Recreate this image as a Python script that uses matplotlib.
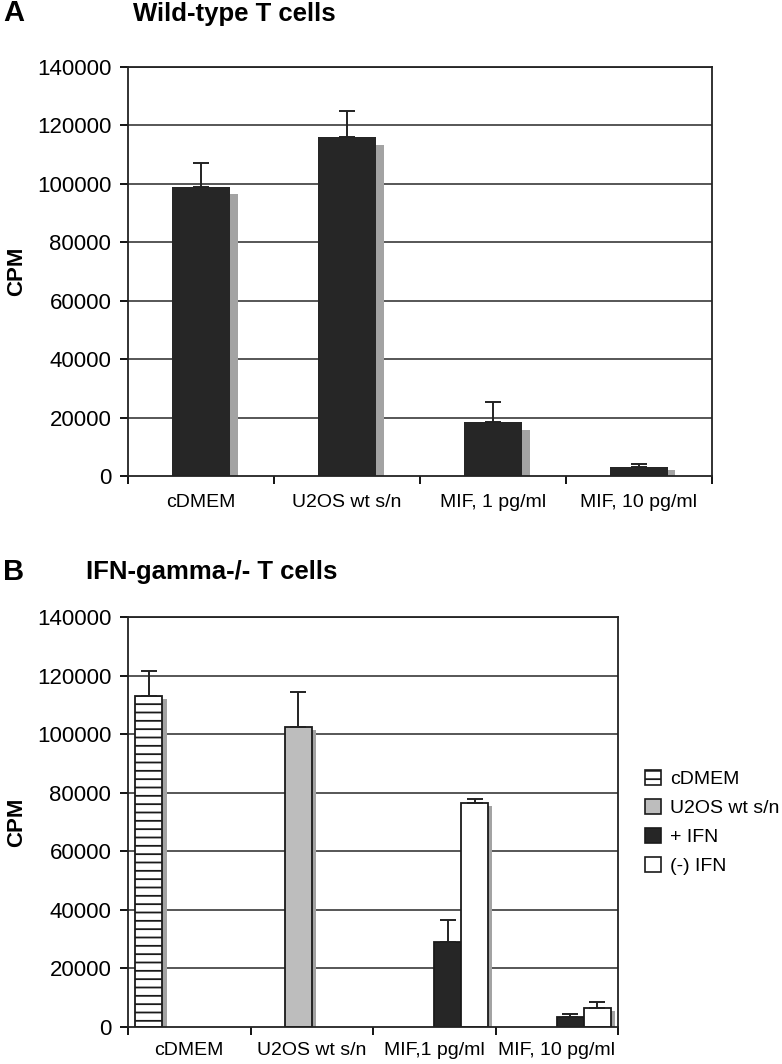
import numpy as np
import matplotlib
matplotlib.use("Agg")
import matplotlib.pyplot as plt
from matplotlib.patches import Patch

plt.rcParams['font.family'] = ['Liberation Sans', 'DejaVu Sans']
plt.rcParams['hatch.linewidth'] = 1.3

# panel A data
cats_a = ["cDMEM", "U2OS wt s/n", "MIF, 1 pg/ml", "MIF, 10 pg/ml"]
cpm_a = [99000, 116000, 18500, 3000]
err_a = [8000, 9000, 7000, 1000]

# panel B data (one series per treatment, 0 = no bar)
cats_b = ["cDMEM", "U2OS wt s/n", "MIF,1 pg/ml", "MIF, 10 pg/ml"]
series_b = ["cDMEM", "U2OS wt s/n", "+ IFN", "(-) IFN"]
cdmem_b = [113000, 0, 0, 0]
u2os_b = [0, 102500, 0, 0]
plus_ifn_b = [0, 0, 29000, 3500]
minus_ifn_b = [0, 0, 76500, 6500]
cdmem_err = [8500, 0, 0, 0]
u2os_err = [0, 12000, 0, 0]
plus_ifn_err = [0, 0, 7500, 800]
minus_ifn_err = [0, 0, 1500, 2200]

yticks = np.arange(0, 140001, 20000)
shadow_col = "#a3a3a3"
grid_col = "#3a3a3a"

fig = plt.figure(figsize=(7.82, 10.64), dpi=100)
axA = fig.add_axes([128/782, 1-476/1064, (712-128)/782, 409/1064])
axB = fig.add_axes([128/782, 1-1027/1064, (618-128)/782, 410/1064])


def style_axis(ax, cats, labelpad):
    ax.set_ylim(0, 140000)
    ax.set_xlim(-0.5, len(cats) - 0.5)
    ax.set_yticks(yticks)
    ax.set_yticklabels([str(t) for t in yticks], fontsize=16)
    ax.set_xticks(np.arange(len(cats)))
    ax.set_xticklabels(cats, fontsize=14)
    ax.set_xticks(np.arange(len(cats) + 1) - 0.5, minor=True)
    ax.tick_params(axis='x', which='major', length=0, pad=labelpad)
    ax.tick_params(axis='x', which='minor', length=6, width=1.3, direction='out')
    ax.tick_params(axis='y', length=6, width=1.3, direction='out', pad=6)
    for t in yticks[1:]:
        ax.axhline(t, color=grid_col, lw=1.2, zorder=0)
    for s in ax.spines.values():
        s.set_linewidth(1.3)
        s.set_color("#222222")
    ax.set_ylabel("CPM", fontsize=16, fontweight='bold')


# ---- panel A
x = np.arange(len(cats_a))
v = np.array(cpm_a)
w = 0.4
sh = np.maximum(v - 2600, v * 0.7)
axA.bar(x + 0.05, sh, w, color=shadow_col, zorder=1)
axA.bar(x, v, w, color="#262626", zorder=2)
axA.errorbar(x, v, yerr=[np.zeros(len(v)), err_a], fmt='none', ecolor='#222222',
             elinewidth=1.4, capsize=6, capthick=1.4, zorder=3)
style_axis(axA, cats_a, 13)
axA.yaxis.set_label_coords(-101/584, 0.5)

# ---- panel B
xb = np.arange(len(cats_b))
bw = 0.22
offs = (np.arange(4) - 1.5) * bw
styles = [dict(facecolor='white', hatch='--'),
          dict(facecolor='#bdbdbd'),
          dict(facecolor='#262626'),
          dict(facecolor='white')]
vals_b = [cdmem_b, u2os_b, plus_ifn_b, minus_ifn_b]
errs_b = [cdmem_err, u2os_err, plus_ifn_err, minus_ifn_err]
for vals, errs, off, st in zip(vals_b, errs_b, offs, styles):
    vals = np.array(vals)
    m = vals > 0
    xs = xb[m] + off
    sh = np.maximum(vals[m] - 1100, vals[m] * 0.8)
    axB.bar(xs + 0.035, sh, bw, color=shadow_col, zorder=1)
    axB.bar(xs, vals[m], bw, edgecolor='#1a1a1a', linewidth=1.3, zorder=2, **st)
    axB.errorbar(xs, vals[m], yerr=[np.zeros(m.sum()), np.array(errs)[m]], fmt='none',
                 ecolor='#222222', elinewidth=1.4, capsize=5.5, capthick=1.4, zorder=3)
style_axis(axB, cats_b, 11)
axB.yaxis.set_label_coords(-101/490, 0.5)

handles = [Patch(edgecolor='#1a1a1a', linewidth=1.2, **st) for st in styles]
fig.legend(handles, series_b, loc='upper left', bbox_to_anchor=(645/782, 1-770/1064),
           frameon=False, fontsize=14, handlelength=0.8, handleheight=0.8,
           handletextpad=0.5, labelspacing=0.55, borderpad=0, borderaxespad=0)

# titles
fig.text(3/782, 1-13/1064, "A", fontsize=21, fontweight='bold', va='center', ha='left')
fig.text(133/782, 1-14/1064, "Wild-type T cells", fontsize=18.5, fontweight='bold',
         va='center', ha='left')
fig.text(3/782, 1-572/1064, "B", fontsize=21, fontweight='bold', va='center', ha='left')
fig.text(86/782, 1-572/1064, "IFN-gamma-/- T cells", fontsize=18.5, fontweight='bold',
         va='center', ha='left')

fig.savefig("out.png", dpi=100)
